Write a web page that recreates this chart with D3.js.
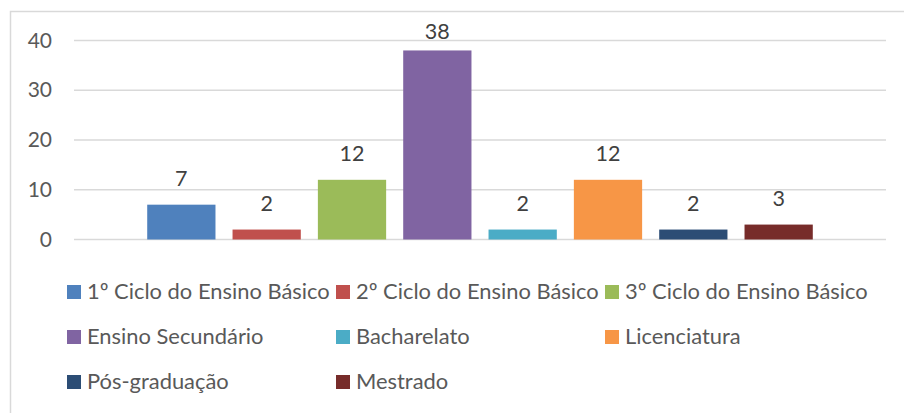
<!DOCTYPE html>
<html>
<head>
<meta charset="utf-8">
<script src="https://cdn.jsdelivr.net/npm/d3@7"></script>
<style>
  html, body { margin: 0; padding: 0; background: #fff; }
  svg { display: block; }
  text { font-family: Lato, "Open Sans", sans-serif; }
</style>
</head>
<body>
<svg id="chart" width="904" height="413"></svg>
<script>
// Habilitações literárias (número de respondentes)
const seriesNames = [
  "1º Ciclo do Ensino Básico",
  "2º Ciclo do Ensino Básico",
  "3º Ciclo do Ensino Básico",
  "Ensino Secundário",
  "Bacharelato",
  "Licenciatura",
  "Pós-graduação",
  "Mestrado"
];
const seriesValues = [7, 2, 12, 38, 2, 12, 2, 3];
const seriesColors = ["#4F81BD", "#C0504D", "#9BBB59", "#8064A2", "#4BACC6", "#F79646", "#2C4D75", "#772C2A"];
const yTicks = [0, 10, 20, 30, 40];

const svg = d3.select("#chart");

// chart frame
svg.append("rect")
  .attr("x", 10.5).attr("y", 11.5)
  .attr("width", 1000).attr("height", 1000)
  .attr("fill", "none").attr("stroke", "#D9D9D9").attr("stroke-width", 1.5);

const plot = { left: 74, right: 886, top: 40.5, bottom: 239.5 };

const y = d3.scaleLinear().domain([0, 40]).range([plot.bottom, plot.top]);
const x = d3.scaleBand()
  .domain(seriesNames)
  .range([plot.left, plot.right])
  .paddingInner(0.2)
  .paddingOuter(0.858);

// gridlines
svg.append("g").selectAll("line").data(yTicks).join("line")
  .attr("x1", plot.left).attr("x2", plot.right)
  .attr("y1", d => y(d)).attr("y2", d => y(d))
  .attr("stroke", "#D9D9D9").attr("stroke-width", 1.3);

// y axis labels
const yAxis = d3.axisLeft(y).tickValues(yTicks).tickSize(0).tickPadding(0);
const gy = svg.append("g").attr("transform", "translate(52,0)").call(yAxis);
gy.select(".domain").remove();
gy.selectAll("text")
  .attr("fill", "#595959")
  .style("font-size", "21px")
  .style("font-family", "Lato, sans-serif");

// bars
svg.append("g").selectAll("rect").data(seriesValues).join("rect")
  .attr("x", (d, i) => x(seriesNames[i]))
  .attr("width", x.bandwidth())
  .attr("y", d => y(d))
  .attr("height", d => y(0) - y(d))
  .attr("fill", (d, i) => seriesColors[i]);

// value labels (kept inside the chart area)
svg.append("g").selectAll("text").data(seriesValues).join("text")
  .attr("x", (d, i) => x(seriesNames[i]) + x.bandwidth() / 2)
  .attr("y", d => Math.max(y(d) - 18.5, 39))
  .attr("text-anchor", "middle")
  .attr("fill", "#404040")
  .style("font-size", "21.5px")
  .text(d => d);

// legend: three columns
const legend = svg.append("g");
const colW = 269, rowH = 45, lx = 67, ly = 285;
const items = legend.selectAll("g").data(seriesNames).join("g")
  .attr("transform", (d, i) => `translate(${lx + (i % 3) * colW},${ly + Math.floor(i / 3) * rowH})`);
items.append("rect")
  .attr("width", 14).attr("height", 14)
  .attr("fill", (d, i) => seriesColors[i]);
items.append("text")
  .attr("x", 20).attr("y", 14)
  .attr("fill", "#595959")
  .style("font-size", "21.9px")
  .text(d => d);
</script>
</body>
</html>
